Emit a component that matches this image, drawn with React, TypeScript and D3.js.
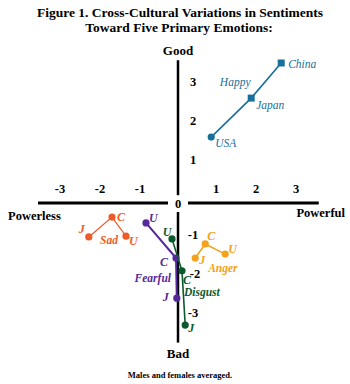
import React from "react";
import * as d3 from "d3";

const W = 350;
const H = 384;

const xTicks = [-3, -2, -1, 1, 2, 3];
const yTicks = [3, 2, 1, -1, -2, -3];

type Pt = { label: string; x: number; y: number; shape: "circle" | "square" };

const happy: Pt[] = [
  { label: "USA", x: 0.83, y: 1.69, shape: "circle" },
  { label: "Japan", x: 1.83, y: 2.69, shape: "square" },
  { label: "China", x: 2.58, y: 3.59, shape: "square" },
];
const sad: Pt[] = [
  { label: "J", x: -2.23, y: -0.87, shape: "circle" },
  { label: "C", x: -1.65, y: -0.36, shape: "circle" },
  { label: "U", x: -1.3, y: -0.85, shape: "circle" },
];
const fearful: Pt[] = [
  { label: "U", x: -0.8, y: -0.51, shape: "circle" },
  { label: "C", x: -0.05, y: -1.41, shape: "circle" },
  { label: "J", x: -0.03, y: -2.44, shape: "circle" },
];
const disgust: Pt[] = [
  { label: "U", x: -0.15, y: -0.92, shape: "circle" },
  { label: "C", x: 0.1, y: -1.74, shape: "circle" },
  { label: "J", x: 0.18, y: -3.13, shape: "circle" },
];
const anger: Pt[] = [
  { label: "J", x: 0.43, y: -1.41, shape: "circle" },
  { label: "C", x: 0.68, y: -1.05, shape: "circle" },
  { label: "U", x: 1.18, y: -1.31, shape: "circle" },
];

const x = d3.scaleLinear().domain([-3, 3]).range([58, 298]);
const y = d3.scaleLinear().domain([-3, 3]).range([320, 86]);

const serif = "'Liberation Serif', 'DejaVu Serif', serif";

type Series = {
  name: string;
  pts: Pt[];
  color: string;
  width: number;
  offs: [number, number, string][];
  nameAt: [number, number, string];
};

const series: Series[] = [
  {
    name: "Happy",
    pts: happy,
    color: "#17709c",
    width: 1.6,
    offs: [
      [4, 10, "start"],
      [5, 11, "start"],
      [7, 5, "start"],
    ],
    nameAt: [-16, -12, "middle"],
  },
  {
    name: "Sad",
    pts: sad,
    color: "#ef5a2a",
    width: 1.2,
    offs: [
      [-7, -4, "middle"],
      [5, 4, "start"],
      [3, 9, "start"],
    ],
    nameAt: [-3, 27, "middle"],
  },
  {
    name: "Fearful",
    pts: fearful,
    color: "#55299a",
    width: 2,
    offs: [
      [3, -1, "start"],
      [-8, 8, "end"],
      [-8, 3, "end"],
    ],
    nameAt: [-5, 24, "end"],
  },
  {
    name: "Disgust",
    pts: disgust,
    color: "#0b5a2f",
    width: 1.6,
    offs: [
      [-5, -3, "middle"],
      [1, 13, "start"],
      [3, 7, "start"],
    ],
    nameAt: [2, 25, "start"],
  },
  {
    name: "Anger",
    pts: anger,
    color: "#f4a11b",
    width: 1.6,
    offs: [
      [4, 6, "start"],
      [2, -4, "start"],
      [3, -1, "start"],
    ],
    nameAt: [3, 28, "start"],
  },
];

export default function App() {
  const line = d3
    .line<Pt>()
    .x((d) => x(d.x))
    .y((d) => y(d.y));
  const x0 = x(0);
  const y0 = y(0);
  return (
    <svg
      width={W}
      height={H}
      style={{ position: "absolute", left: 0, top: 0, background: "#fff" }}
      fontFamily={serif}
    >
      <rect width={W} height={H} fill="#fff" />
      <text x={180} y={17} textAnchor="middle" fontSize={13.5} fontWeight="bold">
        Figure 1. Cross-Cultural Variations in Sentiments
      </text>
      <text x={179} y={32} textAnchor="middle" fontSize={13.5} fontWeight="bold">
        Toward Five Primary Emotions:
      </text>
      <text x={x0} y={55} textAnchor="middle" fontSize={13} fontWeight="bold">
        Good
      </text>
      <text x={x0} y={358} textAnchor="middle" fontSize={13} fontWeight="bold">
        Bad
      </text>
      <text x={180} y={378} textAnchor="middle" fontSize={8.5} fontWeight="bold">
        Males and females averaged.
      </text>
      <text x={8} y={220} fontSize={12.5} fontWeight="bold">
        Powerless
      </text>
      <text x={345} y={217} textAnchor="end" fontSize={12.5} fontWeight="bold">
        Powerful
      </text>

      <line x1={x(-3.5)} x2={x(-0.25)} y1={y0} y2={y0} stroke="#000" strokeWidth={3} />
      <line x1={x(0.25)} x2={x(3.52)} y1={y0} y2={y0} stroke="#000" strokeWidth={3} />
      <line x1={x0} x2={x0} y1={y(3.66)} y2={y(0.2)} stroke="#000" strokeWidth={2.5} />
      <line x1={x0} x2={x0} y1={y(-0.23)} y2={y(-3.58)} stroke="#000" strokeWidth={2.5} />
      <text x={x0} y={y0 + 4.5} textAnchor="middle" fontSize={12.5} fontWeight="bold">
        0
      </text>
      {xTicks.map((t) => (
        <text
          key={"x" + t}
          x={x(t) - Math.sign(t) * 2}
          y={y0 - 10}
          textAnchor="middle"
          fontSize={12.5}
          fontWeight="bold"
        >
          {t}
        </text>
      ))}
      {yTicks.map((t) => (
        <text
          key={"y" + t}
          x={x0 + 15 + (t === -2 ? 2 : 0)}
          y={y(t) - 0.5 + (t > 0 ? 0 : -3)}
          textAnchor="middle"
          fontSize={12.5}
          fontWeight="bold"
        >
          {t}
        </text>
      ))}

      {series.map((s) => (
        <g key={s.name} fill={s.color}>
          <path d={line(s.pts) || ""} fill="none" stroke={s.color} strokeWidth={s.width} />
          {s.pts.map((p, i) =>
            p.shape === "circle" ? (
              <circle key={i} cx={x(p.x)} cy={y(p.y)} r={3.6} />
            ) : (
              <rect key={i} x={x(p.x) - 3.5} y={y(p.y) - 3.5} width={7} height={7} />
            )
          )}
          {s.pts.map((p, i) => (
            <text
              key={"l" + i}
              x={x(p.x) + s.offs[i][0]}
              y={y(p.y) + s.offs[i][1]}
              textAnchor={s.offs[i][2] as any}
              fontSize={s.name === "Happy" ? 11.5 : 12}
              fontStyle="italic"
              fontWeight={s.name === "Happy" ? "normal" : "bold"}
            >
              {p.label}
            </text>
          ))}
          <text
            x={x(s.pts[1].x) + s.nameAt[0]}
            y={y(s.pts[1].y) + s.nameAt[1]}
            textAnchor={s.nameAt[2] as any}
            fontSize={11.5}
            fontStyle="italic"
            fontWeight={s.name === "Happy" ? "normal" : "bold"}
          >
            {s.name}
          </text>
        </g>
      ))}
    </svg>
  );
}
